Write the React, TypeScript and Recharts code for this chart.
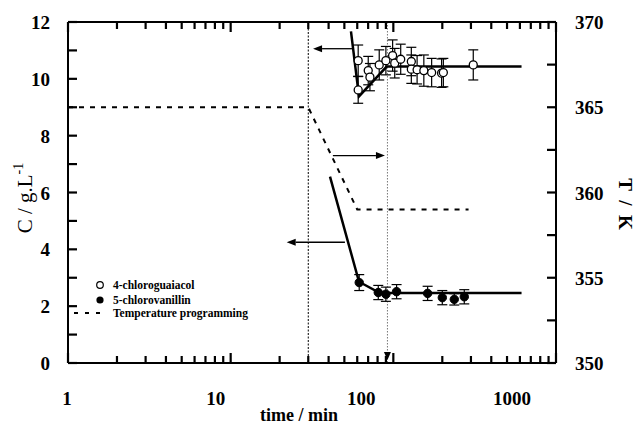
import React from 'react';
import { ComposedChart, Line, Scatter, ErrorBar, XAxis, YAxis, ReferenceLine } from 'recharts';

// ---- data ----
const guaiacolTime = [60.8, 60.8, 70.1, 71.8, 81.9, 90, 99, 102, 111, 129, 129, 140, 154, 172, 198, 203, 310];
const guaiacolConc = [10.64, 9.61, 10.29, 10.06, 10.49, 10.64, 10.82, 10.55, 10.69, 10.61, 10.34, 10.32, 10.29, 10.22, 10.2, 10.22, 10.49];
const guaiacolErr = [0.55, 0.47, 0.5, 0.48, 0.53, 0.5, 0.55, 0.52, 0.53, 0.5, 0.5, 0.5, 0.55, 0.5, 0.5, 0.5, 0.53];

const vanillinTime = [61.7, 80.8, 90, 104.7, 162.5, 200, 237, 273];
const vanillinConc = [2.83, 2.48, 2.42, 2.51, 2.45, 2.3, 2.24, 2.33];
const vanillinErr = [0.28, 0.25, 0.25, 0.25, 0.25, 0.25, 0.2, 0.25];

const guaiacolFitTime = [54.9, 61.5, 91, 614];
const guaiacolFitConc = [11.67, 9.38, 10.43, 10.43];
const vanillinFitTime = [40.8, 61.5, 82.7, 614];
const vanillinFitConc = [6.56, 2.86, 2.46, 2.46];

const tempTime = [1, 30, 60, 290];
const tempK = [365, 365, 359, 359];

const legendLabels = ['4-chloroguaiacol', '5-chlorovanillin', 'Temperature programming'];
const xMajor = [1, 10, 100, 1000];
const xLabelShift = [-1, -15, -32, -44];
const xTicks: number[] = [];
[1, 10, 100].forEach((d) => { for (let k = 1; k < 10; k++) xTicks.push(d * k); });
xTicks.push(1000);
const cTicks = [0, 1, 2, 3, 4, 5, 6, 7, 8, 9, 10, 11, 12];
const tTicks = [350, 352.5, 355, 357.5, 360, 362.5, 365, 367.5, 370];

// arrows: [tStart, tEnd, C]
const arrowA = { from: 55.7, to: 32.1, c: 11.06 };
const arrowB = { from: 42.5, to: 88.8, c: 7.3 };
const arrowC = { from: 50.4, to: 22.1, c: 4.25 };
const stepTime = 30;
const markTime = 92;

const zip = (t: number[], c: number[], e?: number[]) => t.map((v, i) => (e ? { t: v, c: c[i], err: e[i] } : { t: v, c: c[i] }));
const guaiacolData = zip(guaiacolTime, guaiacolConc, guaiacolErr);
const vanillinData = zip(vanillinTime, vanillinConc, vanillinErr);
const guaiacolFit = zip(guaiacolFitTime, guaiacolFitConc);
const vanillinFit = zip(vanillinFitTime, vanillinFitConc);
const tempData = tempTime.map((t, i) => ({ t, T: tempK[i] }));

const FONT = '"Liberation Serif", "Times New Roman", serif';

// tick renderers draw both the inward tick mark and (for majors) the label
const BottomTick = (p: any) => {
  const { x, y, payload } = p;
  const v = payload.value;
  const idx = xMajor.indexOf(v);
  return (
    <g>
      <path d={`M${x},${y}V${y - (idx >= 0 ? 10 : 7)}`} stroke="#000" strokeWidth={2.2} fill="none" />
      {idx >= 0 && (
        <text x={x + xLabelShift[idx]} y={y + 42} textAnchor="middle" fontFamily={FONT} fontWeight="bold" fontSize={19} fill="#000">
          {v}
        </text>
      )}
    </g>
  );
};

const TopTick = (p: any) => {
  const { x, y, payload } = p;
  const major = xMajor.indexOf(payload.value) >= 0;
  return <path d={`M${x},${y}V${y + (major ? 10 : 7)}`} stroke="#000" strokeWidth={2.2} fill="none" />;
};

const LeftTick = (p: any) => {
  const { x, y, payload } = p;
  const v = payload.value;
  return (
    <g>
      <path d={`M${x},${y}H${x + 9}`} stroke="#000" strokeWidth={2.2} fill="none" />
      {v % 2 === 0 && (
        <text x={x - 18} y={y + 7} textAnchor="end" fontFamily={FONT} fontWeight="bold" fontSize={19} fill="#000">
          {v}
        </text>
      )}
    </g>
  );
};

const RightTick = (p: any) => {
  const { x, y, payload } = p;
  const v = payload.value;
  return (
    <g>
      <path d={`M${x},${y}H${x - 9}`} stroke="#000" strokeWidth={2.2} fill="none" />
      {v % 5 === 0 && (
        <text x={x + 19} y={y + 7} textAnchor="start" fontFamily={FONT} fontWeight="bold" fontSize={19} fill="#000">
          {v}
        </text>
      )}
    </g>
  );
};

const arrowShape = (p: any) => {
  const { x1, y1, x2, y2 } = p;
  const dir = x2 > x1 ? 1 : -1;
  const hl = 9;
  const hw = 3.5;
  return (
    <g>
      <line x1={x1} y1={y1} x2={x2 - dir * hl} y2={y2} stroke="#000" strokeWidth={1.3} />
      <polygon points={`${x2},${y2} ${x2 - dir * hl},${y2 - hw} ${x2 - dir * hl},${y2 + hw}`} fill="#000" />
    </g>
  );
};

const markShape = (p: any) => {
  const x = p.x1;
  const yt = Math.min(p.y1, p.y2);
  const yb = Math.max(p.y1, p.y2);
  return (
    <g>
      <line x1={x} x2={x} y1={yt} y2={yb} stroke="#777" strokeWidth={1} strokeDasharray="1.5 1.5" />
      <polygon points={`${x - 3.5},${yb - 11} ${x + 3.5},${yb - 11} ${x},${yb - 3}`} fill="#000" />
    </g>
  );
};

const OpenDot = (p: any) => <circle cx={p.cx} cy={p.cy} r={4} fill="#fff" stroke="#000" strokeWidth={1.3} />;
const FilledDot = (p: any) => <circle cx={p.cx} cy={p.cy} r={4.2} fill="#000" stroke="#000" strokeWidth={1} />;

const LegendBox = () => (
  <g fontFamily={FONT} fontWeight="bold" fontSize={11.5} fill="#000">
    <circle cx={100} cy={285} r={3.3} fill="#fff" stroke="#000" strokeWidth={1.2} />
    <text x={113} y={289}>{legendLabels[0]}</text>
    <circle cx={100} cy={300} r={3.6} fill="#000" />
    <text x={113} y={304}>{legendLabels[1]}</text>
    <line x1={74} x2={106} y1={313} y2={313} stroke="#000" strokeWidth={2} strokeDasharray="4 7" />
    <text x={113} y={317}>{legendLabels[2]}</text>
  </g>
);

const axisCommon = {
  interval: 0 as const,
  tickSize: 0,
  tickMargin: 0,
  tickLine: false,
  axisLine: { stroke: '#000', strokeWidth: 2 },
  allowDataOverflow: true,
};

export default function App() {
  return (
    <div style={{ position: 'absolute', left: 0, top: 0, background: '#fff' }}>
      <ComposedChart width={637} height={428} margin={{ top: 21, right: 0, bottom: 0, left: 0 }}>
        <XAxis
          {...axisCommon}
          xAxisId="b"
          dataKey="t"
          type="number"
          scale="log"
          domain={[1, 1000]}
          ticks={xTicks}
          tick={BottomTick}
          height={65}
          label={{
            content: () => (
              <text x={299} y={421} textAnchor="middle" fontFamily={FONT} fontWeight="bold" fontSize={18} fill="#000">
                time / min
              </text>
            ),
          }}
        />
        <XAxis
          {...axisCommon}
          xAxisId="top"
          orientation="top"
          dataKey="t"
          type="number"
          scale="log"
          domain={[1, 1000]}
          ticks={xTicks}
          tick={TopTick}
          height={1}
          label={{ content: () => <LegendBox /> }}
        />
        <YAxis
          {...axisCommon}
          yAxisId="C"
          orientation="left"
          type="number"
          domain={[0, 12]}
          ticks={cTicks}
          tick={LeftTick}
          width={68}
          label={{
            content: () => (
              <text transform="rotate(-90, 32, 198)" x={32} y={198} textAnchor="middle" fontFamily={FONT} fontSize={21} fill="#000">
                C / g.L<tspan dy={-9} fontSize={14}>-1</tspan>
              </text>
            ),
          }}
        />
        <YAxis
          {...axisCommon}
          yAxisId="T"
          orientation="right"
          type="number"
          domain={[350, 370]}
          ticks={tTicks}
          tick={RightTick}
          width={81}
          label={{
            content: () => (
              <text transform="rotate(90, 619, 204)" x={619} y={204} textAnchor="middle" fontFamily={FONT} fontWeight="bold" fontSize={19} fill="#000" style={{ whiteSpace: 'pre' }}>
                {'T  /  K'}
              </text>
            ),
          }}
        />

        <ReferenceLine xAxisId="b" yAxisId="C" x={stepTime} stroke="#000" strokeWidth={1} strokeDasharray="2 1.5" />
        <ReferenceLine xAxisId="b" yAxisId="C" x={markTime} shape={markShape} />
        <ReferenceLine xAxisId="b" yAxisId="C" segment={[{ x: arrowA.from, y: arrowA.c }, { x: arrowA.to, y: arrowA.c }]} shape={arrowShape} />
        <ReferenceLine xAxisId="b" yAxisId="C" segment={[{ x: arrowB.from, y: arrowB.c }, { x: arrowB.to, y: arrowB.c }]} shape={arrowShape} />
        <ReferenceLine xAxisId="b" yAxisId="C" segment={[{ x: arrowC.from, y: arrowC.c }, { x: arrowC.to, y: arrowC.c }]} shape={arrowShape} />

        {/* invisible series so the top frame axis is rendered */}
        <Line xAxisId="top" yAxisId="C" data={guaiacolFit} dataKey="c" type="linear" stroke="none" dot={false} activeDot={false} legendType="none" isAnimationActive={false} />

        <Line xAxisId="b" yAxisId="T" data={tempData} dataKey="T" type="linear" stroke="#000" strokeWidth={2} strokeDasharray="5 6" dot={false} isAnimationActive={false} />
        <Line xAxisId="b" yAxisId="C" data={guaiacolFit} dataKey="c" type="linear" stroke="#000" strokeWidth={2.5} dot={false} isAnimationActive={false} />
        <Line xAxisId="b" yAxisId="C" data={vanillinFit} dataKey="c" type="linear" stroke="#000" strokeWidth={2.5} dot={false} isAnimationActive={false} />

        <Scatter xAxisId="b" yAxisId="C" data={guaiacolData} dataKey="c" shape={OpenDot} isAnimationActive={false}>
          <ErrorBar dataKey="err" direction="y" width={5} stroke="#000" strokeWidth={1.2} />
        </Scatter>
        <Scatter xAxisId="b" yAxisId="C" data={vanillinData} dataKey="c" shape={FilledDot} isAnimationActive={false}>
          <ErrorBar dataKey="err" direction="y" width={5} stroke="#000" strokeWidth={1.2} />
        </Scatter>
      </ComposedChart>
    </div>
  );
}
